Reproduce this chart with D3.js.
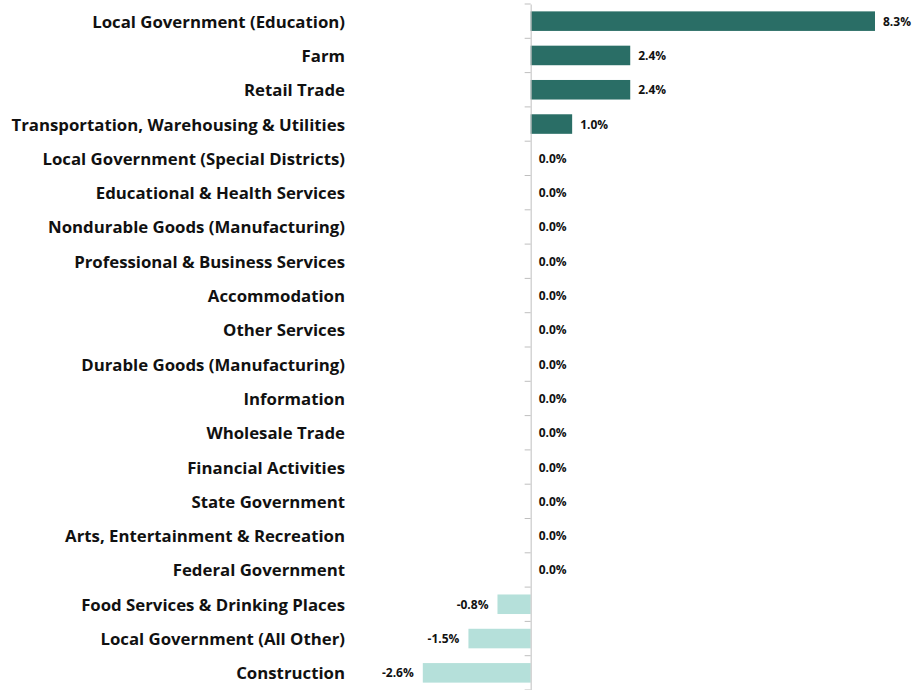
<!DOCTYPE html>
<html><head><meta charset="utf-8">
<script src="https://cdn.jsdelivr.net/npm/d3@7"></script>
<style>body{margin:0;background:#fff;} svg{display:block;}</style>
</head><body>
<svg id="chart" width="914" height="690"></svg>
<script>
const categories = ["Local Government (Education)","Farm","Retail Trade","Transportation, Warehousing & Utilities","Local Government (Special Districts)","Educational & Health Services","Nondurable Goods (Manufacturing)","Professional & Business Services","Accommodation","Other Services","Durable Goods (Manufacturing)","Information","Wholesale Trade","Financial Activities","State Government","Arts, Entertainment & Recreation","Federal Government","Food Services & Drinking Places","Local Government (All Other)","Construction"];
const values = [8.3,2.4,2.4,1.0,0,0,0,0,0,0,0,0,0,0,0,0,0,-0.8,-1.5,-2.6];
const labels = ["8.3%","2.4%","2.4%","1.0%","0.0%","0.0%","0.0%","0.0%","0.0%","0.0%","0.0%","0.0%","0.0%","0.0%","0.0%","0.0%","0.0%","-0.8%","-1.5%","-2.6%"];

const svg = d3.select("#chart");
const x = d3.scaleLinear().domain([-2.6, 8.3]).range([422.8, 875]);
const y = d3.scaleBand().domain(categories).range([4, 690]).paddingInner(0.43).paddingOuter(0.215);
const yb = d3.scaleBand().domain(categories).range([4, 690]);

// category labels
svg.append("g").selectAll("text").data(categories).join("text")
  .attr("x", 345).attr("y", d => yb(d) + yb.bandwidth()/2)
  .attr("text-anchor", "end").attr("dominant-baseline", "central")
  .attr("font-family", "'Open Sans', sans-serif").attr("font-weight", "bold")
  .attr("font-size", 16.8).attr("fill", "#111").text(d => d);

// bars
svg.append("g").selectAll("rect").data(values).join("rect")
  .attr("x", d => x(Math.min(0, d)))
  .attr("y", (d, i) => y(categories[i]))
  .attr("width", d => Math.abs(x(d) - x(0)))
  .attr("height", y.bandwidth())
  .attr("fill", d => d >= 0 ? "#2a6e66" : "#b5e0da");

// value labels
svg.append("g").selectAll("text").data(values).join("text")
  .attr("x", d => d < 0 ? x(d) - 9 : x(d) + 8)
  .attr("y", (d, i) => yb(categories[i]) + yb.bandwidth()/2)
  .attr("text-anchor", d => d < 0 ? "end" : "start")
  .attr("dominant-baseline", "central")
  .attr("font-family", "'Open Sans', sans-serif").attr("font-weight", "bold")
  .attr("font-size", 12).attr("fill", "#111")
  .text((d, i) => labels[i]);

// axis
const ax = svg.append("g").attr("transform", `translate(${x(0)},0)`)
  .call(d3.axisLeft(yb).tickFormat("").tickSize(0));
ax.select(".domain").attr("stroke", "#bfbfbf");
ax.selectAll(".tick").remove();
ax.selectAll("line.b").data(d3.range(categories.length + 1)).join("line")
  .attr("class", "b")
  .attr("x1", -6).attr("x2", 0)
  .attr("y1", i => 4 + i * yb.step()).attr("y2", i => 4 + i * yb.step())
  .attr("stroke", "#bfbfbf");
</script>
</body></html>
